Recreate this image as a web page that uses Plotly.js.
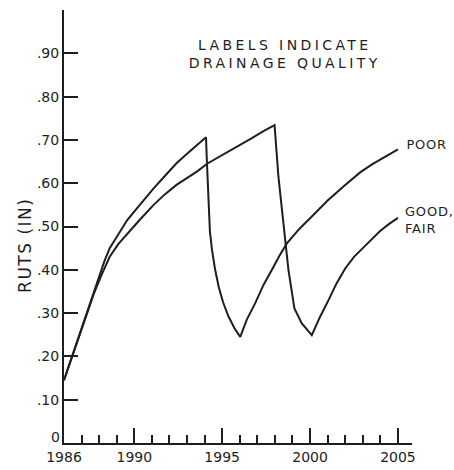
<!DOCTYPE html>
<html>
<head>
<meta charset="utf-8">
<script src="https://cdn.plot.ly/plotly-3.0.1.min.js"></script>
<style>
html,body{margin:0;padding:0;background:#fff;}
#chart{width:454px;height:470px;}
g.annotation[data-index="2"] text{letter-spacing:3.4px;}
g.annotation[data-index="1"] text{letter-spacing:1.5px;}
g.annotation[data-index="3"] text, g.annotation[data-index="4"] text{letter-spacing:0.8px;}
</style>
</head>
<body>
<div id="chart"></div>
<script>
// Years and rut depths (inches)
const poorYears = [1986.0,1986.25,1986.5,1986.75,1987.0,1987.25,1987.5,1987.75,1988.0,1988.3,1988.6,1988.9,1989.2,1989.6,1989.9,1990.3,1990.6,1991.1,1991.7,1992.4,1993.0,1993.7,1994.08,
                   1994.12,1994.17,1994.23,1994.3,1994.42,1994.6,1994.8,1995.05,1995.36,1995.7,1996.03,
                   1996.4,1996.88,1997.35,1997.83,1998.25,1998.68,1999.4,2000.1,2001.0,2002.0,2002.85,2003.5,2004.3,2005.0];
const poorRuts  = [0.145,0.175,0.205,0.235,0.265,0.295,0.325,0.355,0.385,0.42,0.45,0.47,0.49,0.515,0.53,0.55,0.565,0.588,0.615,0.646,0.668,0.692,0.706,
                   0.66,0.615,0.538,0.49,0.446,0.40,0.361,0.325,0.292,0.265,0.245,
                   0.285,0.323,0.365,0.40,0.432,0.461,0.495,0.523,0.56,0.596,0.625,0.643,0.662,0.678];

const goodYears = [1986.0,1986.25,1986.5,1986.75,1987.0,1987.35,1987.7,1988.1,1988.6,1989.1,1989.6,1990.3,1991.1,1991.7,1992.4,1993.0,1993.6,1994.14,1994.8,1995.36,1996.0,1996.69,1997.3,1997.98,
                   1998.2,1998.49,1998.77,1999.11,1999.53,2000.1,
                   2000.55,2001.05,2001.5,2002.0,2002.5,2003.0,2003.5,2004.0,2004.5,2005.0];
const goodRuts  = [0.145,0.175,0.205,0.235,0.262,0.305,0.345,0.385,0.43,0.46,0.484,0.515,0.55,0.573,0.596,0.612,0.628,0.645,0.66,0.673,0.688,0.704,0.719,0.734,
                   0.615,0.50,0.40,0.311,0.276,0.249,
                   0.29,0.33,0.368,0.403,0.43,0.45,0.47,0.49,0.506,0.52];

const xTickVals = [1986,1990,1995,2000,2005];
const xTickText = ['1986','1990','1995','2000','2005'];
const yTickVals = [0.1,0.2,0.3,0.4,0.5,0.6,0.7,0.8,0.9,1.0];
const yTickText = ['.10','.20','.30','.40','.50','.60','.70','.80','.90',''];

const curveLabels = ['POOR','GOOD,<br>FAIR'];
const noteText = 'LABELS INDICATE<br>DRAINAGE QUALITY';
const yTitle = 'RUTS (IN)';

const ink = '#1e1e1e';
const fam = 'DejaVu Sans, sans-serif';
const font = {family:fam, size:14, color:ink};

const traces = [
  {x:poorYears, y:poorRuts, mode:'lines', line:{color:ink, width:2}, hoverinfo:'skip'},
  {x:goodYears, y:goodRuts, mode:'lines', line:{color:ink, width:2}, hoverinfo:'skip'}
];

const layout = {
  width:454, height:470,
  margin:{l:64, r:42, t:10, b:27},
  paper_bgcolor:'#fff', plot_bgcolor:'#fff',
  showlegend:false,
  font:font,
  xaxis:{
    range:[1986,2005.8], showgrid:false, zeroline:false,
    showline:true, linecolor:ink, linewidth:2,
    tickmode:'array', tickvals:xTickVals, ticktext:xTickText,
    ticks:'inside', ticklen:15, tickwidth:2, tickcolor:ink,
    tickfont:{family:fam, size:14, color:ink},
    minor:{tickmode:'linear', tick0:1986, dtick:1, ticks:'inside', ticklen:8, tickwidth:2, tickcolor:ink, showgrid:false}
  },
  yaxis:{
    range:[0,1.0], showgrid:false, zeroline:false,
    showline:true, linecolor:ink, linewidth:2,
    tickmode:'array', tickvals:yTickVals, ticktext:yTickText,
    ticks:'inside', ticklen:14, tickwidth:2, tickcolor:ink,
    tickfont:{family:fam, size:14, color:ink}
  },
  annotations:[
    {xref:'paper', yref:'y', x:-0.005, y:0, yshift:6, text:'0', showarrow:false, xanchor:'right', yanchor:'middle', font:{family:fam, size:14, color:ink}},
    {xref:'paper', yref:'y', x:-0.112, y:0.457, text:yTitle, textangle:-90, showarrow:false, xanchor:'center', yanchor:'middle', font:{family:fam, size:17, color:ink}},
    {xref:'x', yref:'y', x:1998.6, y:0.898, text:noteText, showarrow:false, align:'center', xanchor:'center', font:{family:fam, size:14, color:ink}},
    {xref:'x', yref:'y', x:2005.45, y:0.69, text:curveLabels[0], showarrow:false, xanchor:'left', font:{family:fam, size:13, color:ink}},
    {xref:'x', yref:'y', x:2005.3, y:0.516, text:curveLabels[1], showarrow:false, xanchor:'left', align:'left', font:{family:fam, size:13, color:ink}}
  ]
};

Plotly.newPlot('chart', traces, layout, {displayModeBar:false, staticPlot:true});
</script>
</body>
</html>
